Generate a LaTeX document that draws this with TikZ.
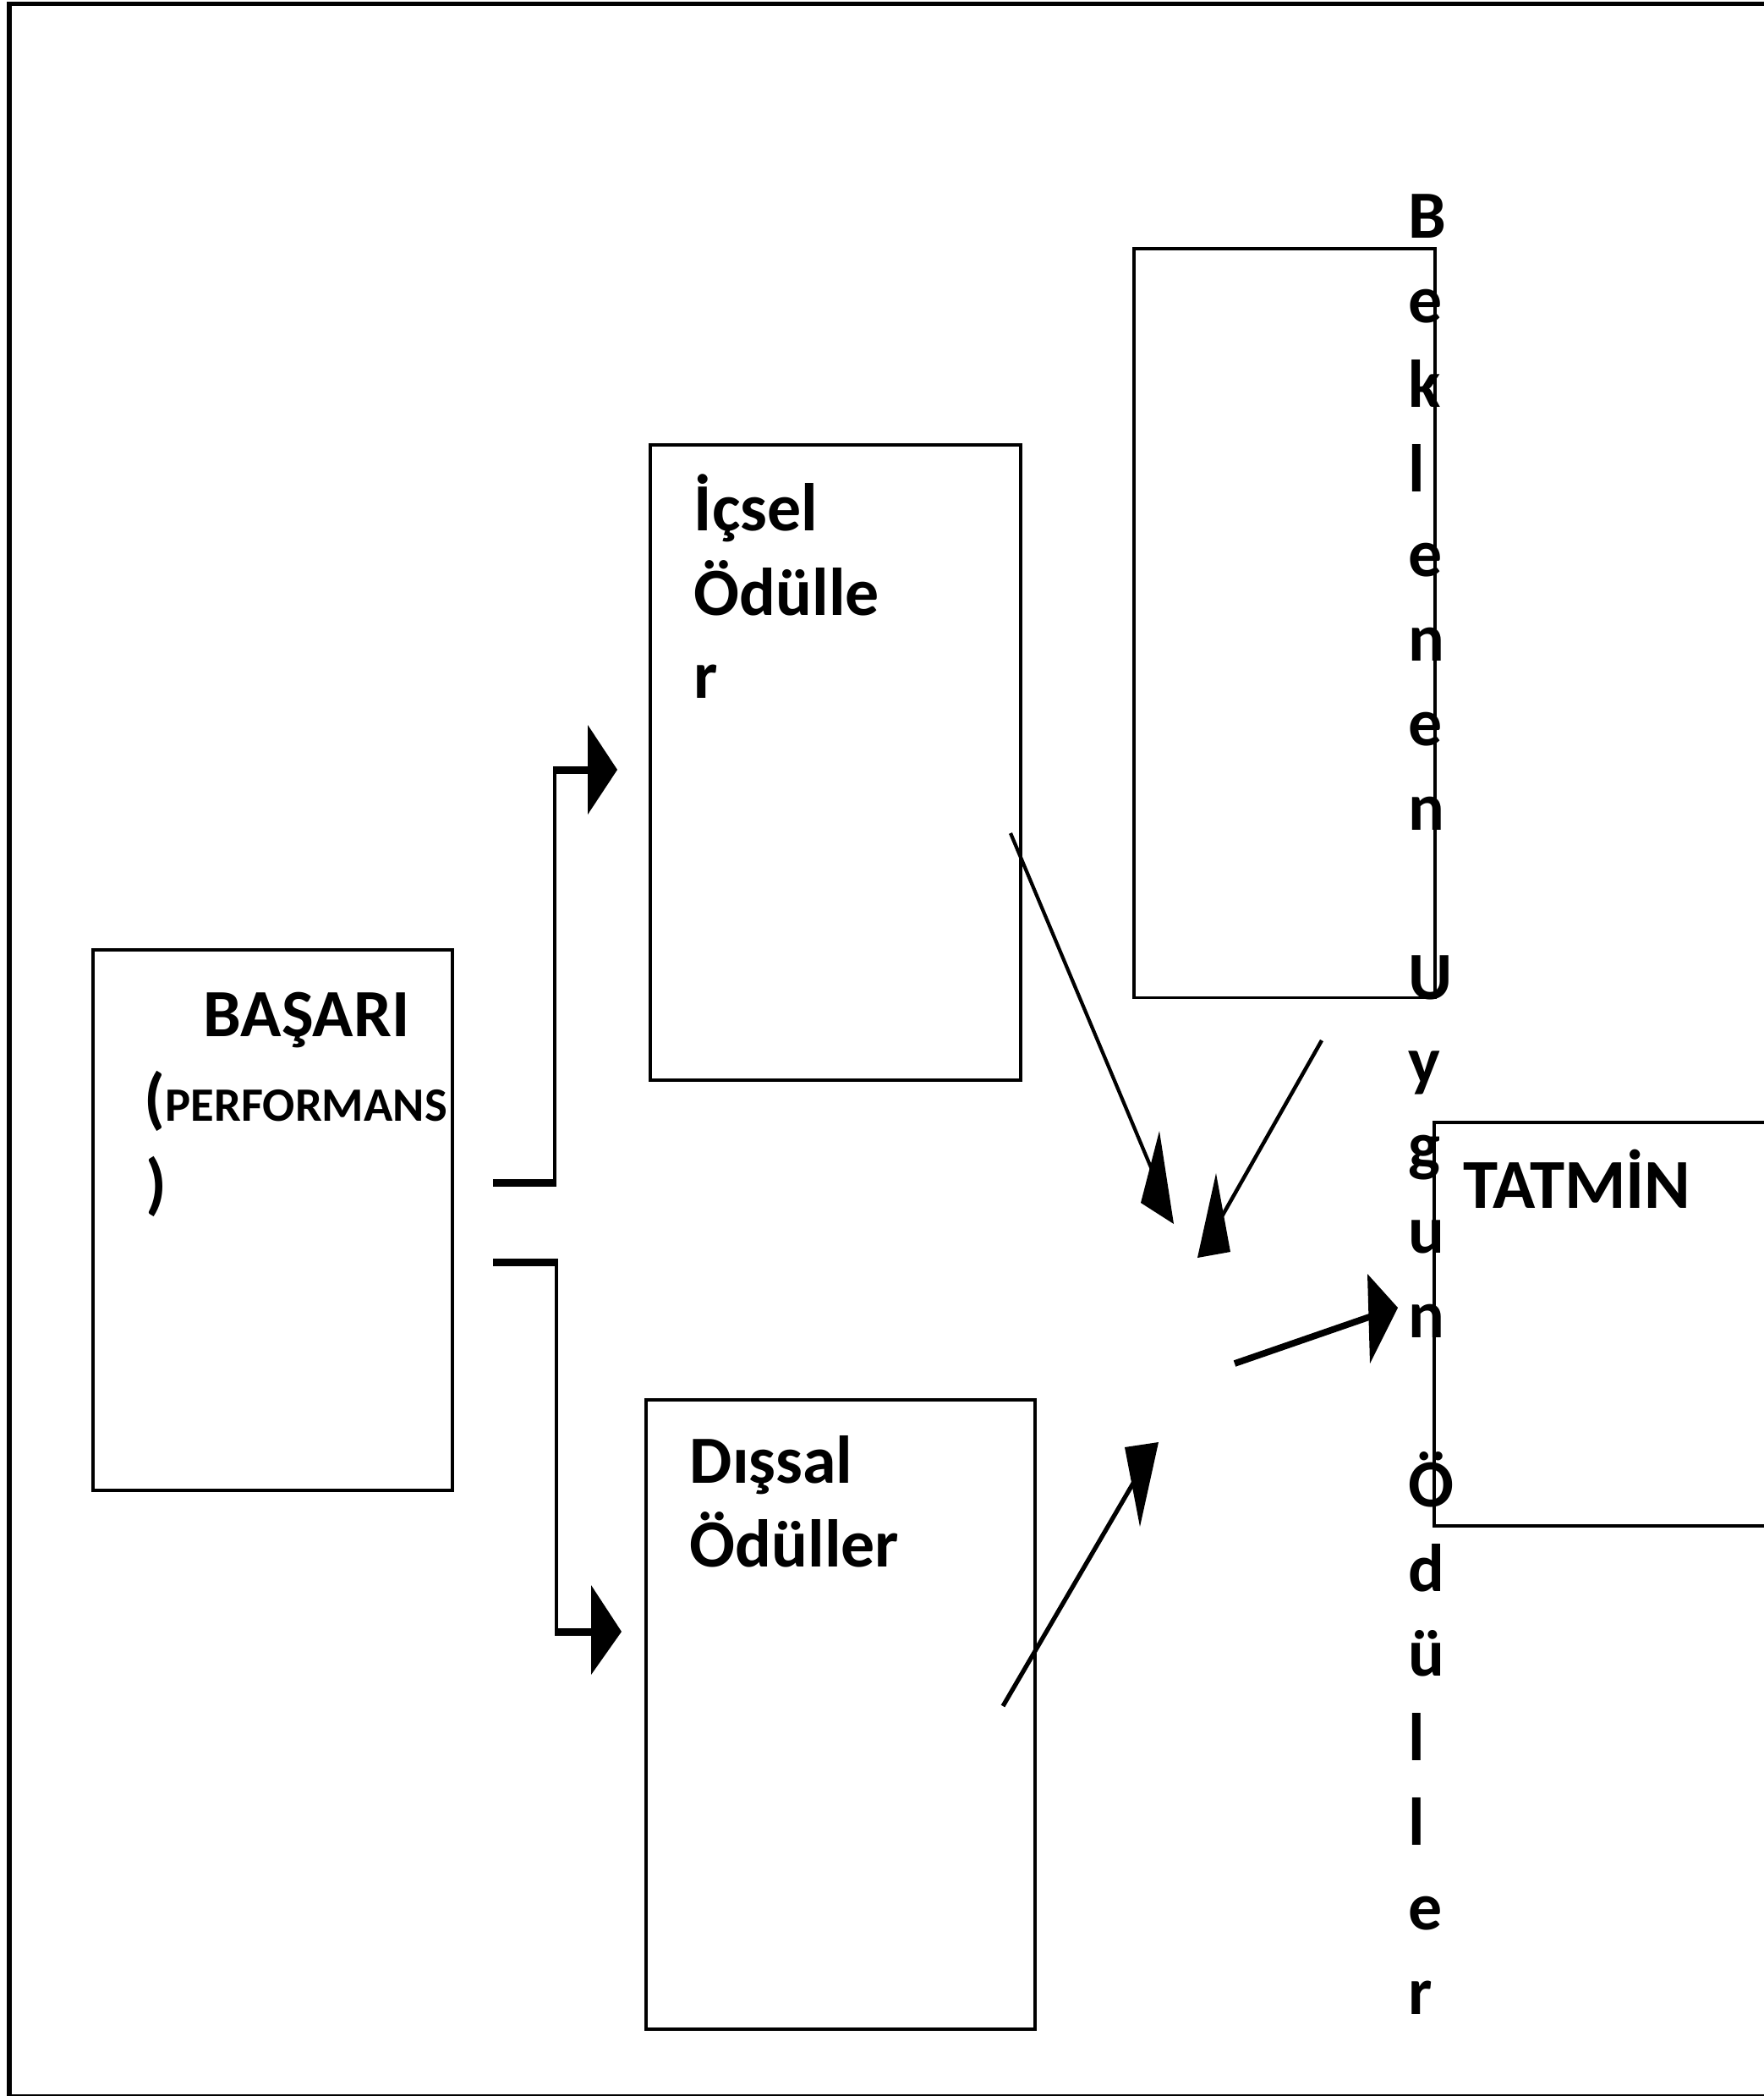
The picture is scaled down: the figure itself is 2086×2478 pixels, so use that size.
\documentclass[tikz,border=0pt]{standalone}
\usepackage{fontspec}
\setmainfont{Carlito}
\begin{document}
\begin{tikzpicture}[x=0.01cm,y=-0.01cm,
  box/.style={draw, line width=1pt, inner sep=0pt, anchor=north west},
  lbl/.style={font=\bfseries\fontsize{22.7}{28.45}\selectfont, anchor=base west, inner sep=0pt},
  conn/.style={line width=1.14pt},
  stub/.style={line width=2.56pt},
  head/.style={fill=black, draw=none}]
\useasboundingbox (0,0) rectangle (2086,2478);
\clip (0,0) rectangle (2086,2478);
% outer frame
\draw[line width=1.7pt] (11,4.5) rectangle (2200,2479);
% boxes
\node[box, minimum width=4.25cm, minimum height=6.39cm] (basari) at (108,1121) {};
\node[box, minimum width=4.38cm, minimum height=7.51cm] (icsel) at (767,524) {};
\node[box, minimum width=4.60cm, minimum height=7.44cm] (dissal) at (762,1653) {};
\node[box, minimum width=3.56cm, minimum height=8.85cm] (beklenen) at (1339,292) {};
\node[box, minimum width=5.06cm, minimum height=4.77cm] (tatmin) at (1694,1325) {};
% texts
\node[lbl] (b1) at (240,1225) {BAŞARI};
\node[lbl] (b2) at (170,1325) {(\fontsize{16.1}{20}\selectfont PERFORMANS};
\node[lbl] (b3) at (172,1426) {)};
\node[lbl] (i1) at (820,627) {İçsel};
\node[lbl] (i2) at (820,727) {Ödülle};
\node[lbl] (i3) at (820,825) {r};
\node[lbl] (d1) at (815,1753) {Dışsal};
\node[lbl] (d2) at (815,1852) {Ödüller};
\node[lbl, font=\bfseries\fontsize{23.6}{28.45}\selectfont] (tt) at (1730,1428) {TATMİN};
\foreach \ch [count=\i from 0] in {B,e,k,l,e,n,e,n}
  \node[lbl] (va\i) at (1665,{281+100*\i}) {\ch};
\foreach \ch [count=\i from 9] in {U,y,g,u,n}
  \node[lbl] (vb\i) at (1665,{281+100*\i}) {\ch};
\foreach \ch [count=\i from 15] in {Ö,d,ü,l,l,e,r}
  \node[lbl] (vc\i) at (1665,{281+100*\i}) {\ch};
% connectors from BASARI
\coordinate (s1) at (583,1398);
\coordinate (c1) at (656,1398);
\coordinate (c2) at (656,910);
\coordinate (e1) at (697,910);
\draw[stub] (s1) -- (658,1398);
\draw[conn] (c1) -- (c2);
\draw[stub] (654,910) -- (e1);
\fill[head] (695,857) -- (730,910) -- (695,963) -- cycle;
\coordinate (s2) at (583,1492);
\coordinate (c3) at (658,1492);
\coordinate (c4) at (658,1929);
\coordinate (e2) at (701,1929);
\draw[stub] (s2) -- (660,1492);
\draw[conn] (c3) -- (c4);
\draw[stub] (656,1929) -- (e2);
\fill[head] (699,1874) -- (735,1929) -- (699,1980) -- cycle;
% diagonal arrows
\coordinate (a0) at (1195,985);
\coordinate (a1) at (1366,1392);
\draw[line width=1.2pt] (a0) -- (a1);
\fill[head] (1371,1337) -- (1349,1422) -- (1388,1447) -- cycle;
\coordinate (bb0) at (1563,1230);
\coordinate (bb1) at (1445,1438);
\draw[line width=1.28pt] (bb0) -- (bb1);
\fill[head] (1438,1387) -- (1416,1487) -- (1455,1480) -- cycle;
\coordinate (cc0) at (1186,2017);
\coordinate (cc1) at (1345,1745);
\draw[line width=1.5pt] (cc0) -- (cc1);
\fill[head] (1330,1711) -- (1370,1705) -- (1348,1805) -- cycle;
\coordinate (dd0) at (1460,1612);
\coordinate (dd1) at (1625,1555);
\draw[line width=2.2pt] (dd0) -- (dd1);
\fill[head] (1617,1506) -- (1653,1546) -- (1620,1612) -- cycle;
\end{tikzpicture}
\end{document}
